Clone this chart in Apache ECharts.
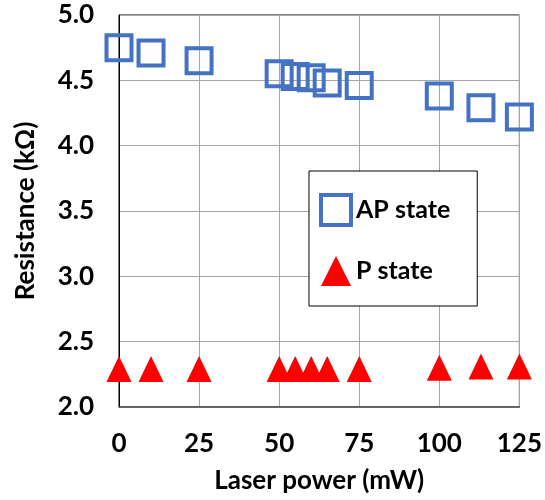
<!DOCTYPE html>
<html><head><meta charset="utf-8">
<script src="https://cdn.jsdelivr.net/npm/echarts@6/dist/echarts.min.js"></script>
<style>html,body{margin:0;padding:0;background:#fff}#c{width:545px;height:500px}</style>
</head><body><div id="c"></div>
<script>
const laserPower = [0, 10, 25, 50, 55, 60, 65, 75, 100, 113, 125];
const apState = [4.75, 4.71, 4.65, 4.55, 4.53, 4.52, 4.48, 4.46, 4.38, 4.29, 4.22];
const pState = [2.29, 2.29, 2.29, 2.29, 2.29, 2.29, 2.29, 2.29, 2.30, 2.31, 2.31];
const seriesNames = ['AP state', 'P state'];
const xTitle = 'Laser power (mW)';
const yTitle = 'Resistance (k\u03A9)';

const font = 'Lato';
const blue = '#4472C4';
const red = '#FF0000';
const chart = echarts.init(document.getElementById('c'));
chart.setOption({
  animation: false,
  backgroundColor: '#fff',
  grid: { left: 119, right: 23, top: 15, bottom: 93, show: true, borderColor: '#000', borderWidth: 1 },
  xAxis: {
    type: 'value', min: 0, max: 125, interval: 25,
    name: xTitle, nameLocation: 'middle', nameGap: 61,
    nameTextStyle: { fontFamily: font, fontWeight: 'bold', fontSize: 26, color: '#000' },
    axisLine: { show: true, lineStyle: { color: '#555', width: 1.5 } },
    axisTick: { show: false },
    axisLabel: { margin: 24, fontFamily: font, fontWeight: 'bold', fontSize: 26, color: '#000' },
    splitLine: { show: true, lineStyle: { color: '#a6a6a6', width: 1 } }
  },
  yAxis: {
    type: 'value', min: 2, max: 5, interval: 0.5,
    name: yTitle, nameLocation: 'middle', nameGap: 80,
    nameTextStyle: { fontFamily: font, fontWeight: 'bold', fontSize: 26, color: '#000' },
    axisLine: { show: true, lineStyle: { color: '#000', width: 1 } },
    axisTick: { show: false },
    axisLabel: { margin: 25, fontFamily: font, fontWeight: 'bold', fontSize: 26, color: '#000',
      formatter: v => v.toFixed(1) },
    splitLine: { show: true, lineStyle: { color: '#a6a6a6', width: 1 } }
  },
  legend: {
    orient: 'vertical', left: 309, top: 171,
    padding: [22, 27, 20, 10], itemGap: 29, itemWidth: 30, itemHeight: 30,
    backgroundColor: '#fff', borderColor: '#000', borderWidth: 1,
    textStyle: { fontFamily: font, fontWeight: 'bold', fontSize: 25, color: '#000' },
    data: [
      { name: seriesNames[0], itemStyle: { color: 'rgba(0,0,0,0)', borderColor: blue, borderWidth: 4, opacity: 1 } },
      { name: seriesNames[1], itemStyle: { color: red, borderWidth: 0, opacity: 1 } }
    ]
  },
  series: [
    {
      name: seriesNames[0], type: 'scatter', symbol: 'rect', symbolSize: 25,
      itemStyle: { color: 'rgba(0,0,0,0)', borderColor: blue, borderWidth: 4, opacity: 1 },
      data: laserPower.map((x, i) => [x, apState[i]]), z: 3
    },
    {
      name: seriesNames[1], type: 'scatter', symbol: 'triangle', symbolSize: [25, 26],
      itemStyle: { color: red, opacity: 1 },
      data: laserPower.map((x, i) => [x, pState[i]]), z: 3
    }
  ]
});
</script></body></html>
